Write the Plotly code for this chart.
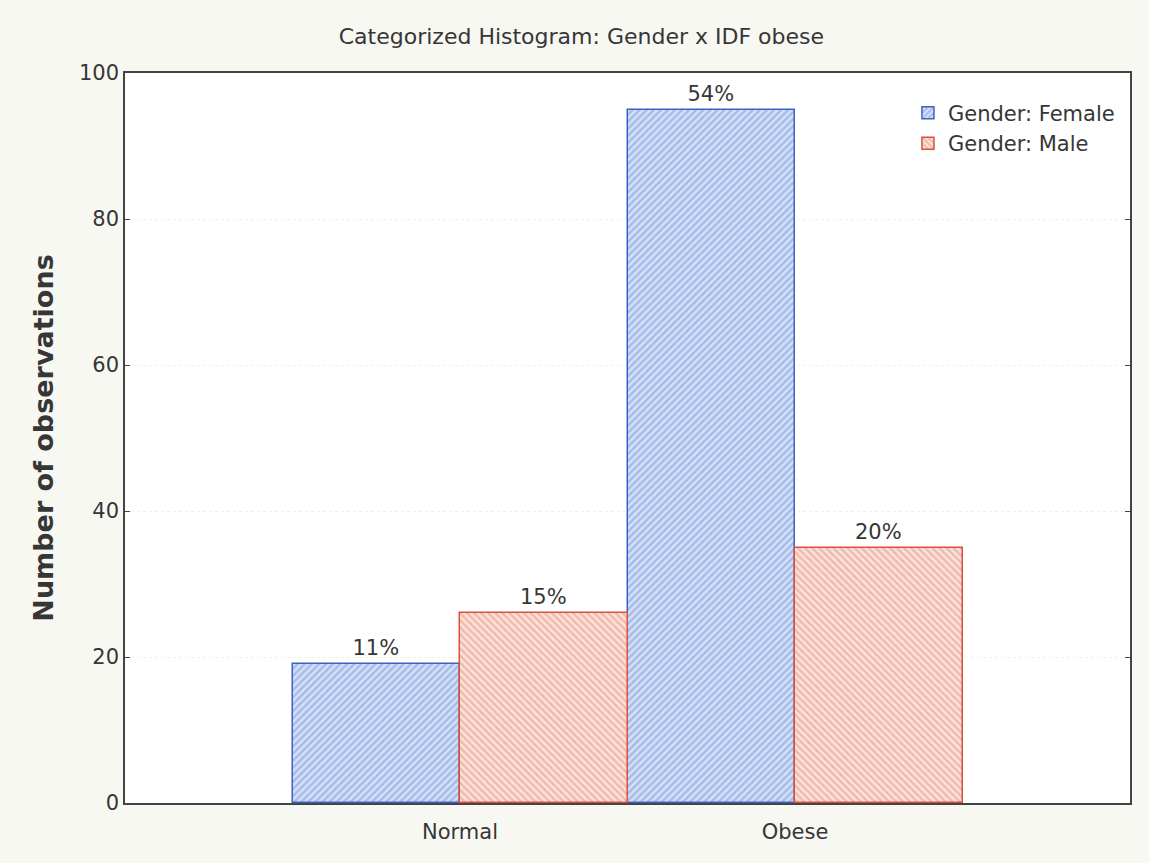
import plotly.graph_objects as go

categories = ["Normal", "Obese"]
female = [19, 95]
male = [26, 35]
series_names = ["Gender: Female", "Gender: Male"]
y_ticks = [0, 20, 40, 60, 80, 100]

total = sum(female) + sum(male)
fem_txt = [f"{round(v / total * 100)}%" for v in female]
male_txt = [f"{round(v / total * 100)}%" for v in male]

font_fam = "DejaVu Sans, Liberation Sans, Arial, sans-serif"
txt_col = "#363636"
fs = 21

fig = go.Figure()
fig.add_trace(go.Bar(
    x=categories, y=female, name=series_names[0], text=fem_txt,
    textposition="outside", cliponaxis=False,
    textfont=dict(size=fs, color=txt_col, family=font_fam),
    marker=dict(color="#d3dff5", line=dict(color="#3d62c4", width=1.5),
                pattern=dict(shape="/", fgcolor="#7596dc", bgcolor="#d5e1f6", size=5, solidity=0.5)),
))
fig.add_trace(go.Bar(
    x=categories, y=male, name=series_names[1], text=male_txt,
    textposition="outside", cliponaxis=False,
    textfont=dict(size=fs, color=txt_col, family=font_fam),
    marker=dict(color="#f8ddd3", line=dict(color="#d9503e", width=1.5),
                pattern=dict(shape="\\", fgcolor="#e6907f", bgcolor="#fae3da", size=5, solidity=0.5)),
))

fig.update_layout(
    width=1149, height=863,
    margin=dict(l=125, r=19, t=73, b=60),
    paper_bgcolor="#f8f8f3",
    plot_bgcolor="#ffffff",
    barmode="group", bargap=0, bargroupgap=0,
    title=dict(text="Categorized Histogram: Gender x IDF obese", x=0.506, xanchor="center",
               y=0.958, yanchor="middle", font=dict(size=22, color=txt_col, family=font_fam)),
    font=dict(family=font_fam, color=txt_col),
    showlegend=True,
    legend=dict(x=0.99, y=0.973, xanchor="right", yanchor="top",
                bgcolor="rgba(0,0,0,0)", font=dict(size=fs, color=txt_col, family=font_fam),
                tracegroupgap=0),
)
fig.update_xaxes(range=[-1, 2], showline=True, linecolor="#444444", linewidth=1.5, mirror=True,
                 ticks="", ticklabelstandoff=9, tickfont=dict(size=fs, color=txt_col),
                 showgrid=False, zeroline=False)
fig.update_yaxes(range=[0, 100], tickvals=y_ticks, showline=True, linecolor="#444444", linewidth=1.5,
                 mirror="ticks", ticks="inside", ticklen=5, tickcolor="#444444",
                 tickfont=dict(size=fs, color=txt_col), showgrid=True, gridcolor="#f1f1f1",
                 griddash="dot", zeroline=False,
                 title=dict(text="<b>Number of observations</b>",
                            font=dict(size=27, color=txt_col, family=font_fam), standoff=18))

fig.write_html("out.html", config={"displayModeBar": False},
               post_script="document.body.style.margin='0px';document.body.style.background='#f8f8f3';")
